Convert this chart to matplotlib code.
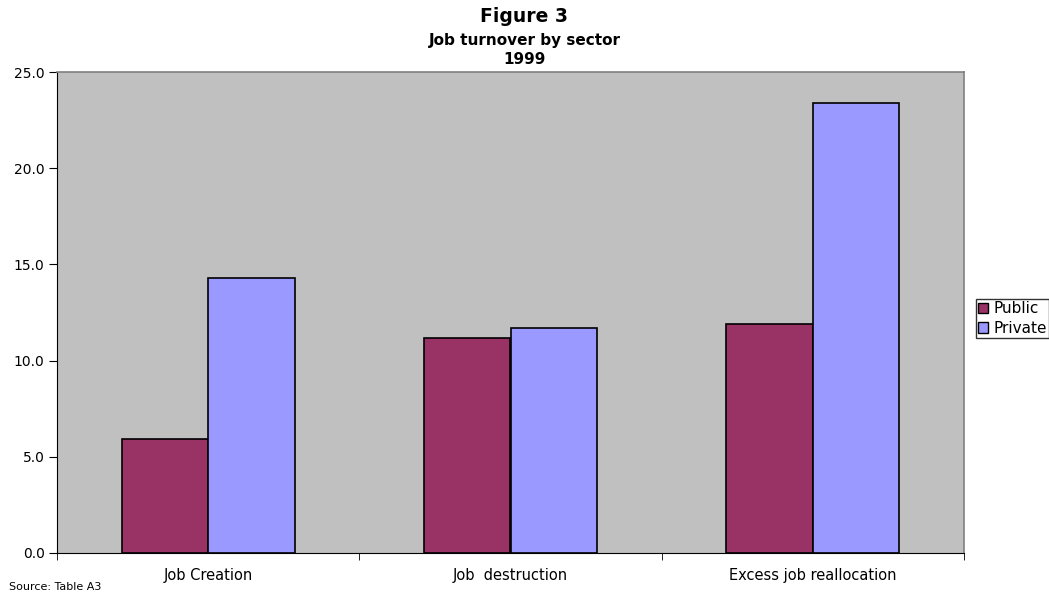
import matplotlib
matplotlib.use("Agg")
import matplotlib.pyplot as plt
import numpy as np
from matplotlib.patches import Patch

categories = ["Job Creation", "Job  destruction", "Excess job reallocation"]
public = [5.9, 11.2, 11.9]
private = [14.3, 11.7, 23.4]
yticks = [0, 5, 10, 15, 20, 25]

plt.rcParams['font.family'] = ['DejaVu Sans']

fig = plt.figure(figsize=(10.49, 5.94), dpi=100)
ax = fig.add_axes([57/1049, 1-553/594, (964-57)/1049, (553-72)/594])
ax.set_facecolor("#C0C0C0")

x = np.arange(len(categories))
w = 1/3.5
ax.bar(x - w/2, public, w, color="#993366", edgecolor="black", linewidth=1.2, label="Public")
ax.bar(x + w/2, private, w, color="#9999FF", edgecolor="black", linewidth=1.2, label="Private")

ax.set_xlim(-0.5, len(categories) - 0.5)
ax.set_ylim(0, 25)
ax.set_yticks(yticks)
ax.set_yticklabels([f"{v:.1f}" for v in yticks], fontsize=10)
ax.set_xticks(x)
ax.set_xticklabels(categories, fontsize=10.5)
ax.tick_params(axis='x', length=0, pad=11)
ax.set_xticks(np.arange(len(categories) + 1) - 0.5, minor=True)
ax.tick_params(axis='x', which='minor', length=5, direction='out', color='black')
ax.tick_params(axis='y', length=6, direction='out', color='black', pad=3)

for s in ['top', 'right']:
    ax.spines[s].set_color('#808080')
    ax.spines[s].set_linewidth(1.2)
ax.spines['left'].set_color('black')
ax.spines['bottom'].set_color('black')

fig.text(0.5, 1-16/594, "Figure 3", ha='center', va='center', fontsize=13.5, fontweight='bold')
fig.text(0.5, 1-41/594, "Job turnover by sector", ha='center', va='center', fontsize=11, fontweight='bold')
fig.text(0.5, 1-59/594, "1999", ha='center', va='center', fontsize=11, fontweight='bold')
fig.text(9/1049, 1-590/594, "Source: Table A3", ha='left', va='baseline', fontsize=8)

handles = [Patch(facecolor="#993366", edgecolor="black", label="Public"),
           Patch(facecolor="#9999FF", edgecolor="black", label="Private")]
leg = fig.legend(handles=handles, loc='upper left', bbox_to_anchor=(976/1049, 1-299/594),
                 fontsize=11, frameon=True, fancybox=False, edgecolor='black',
                 handlelength=0.65, handleheight=0.65, handletextpad=0.35,
                 borderpad=0.15, labelspacing=0.3, borderaxespad=0)
leg.get_frame().set_linewidth(1.0)

fig.savefig("out.png", dpi=100)
